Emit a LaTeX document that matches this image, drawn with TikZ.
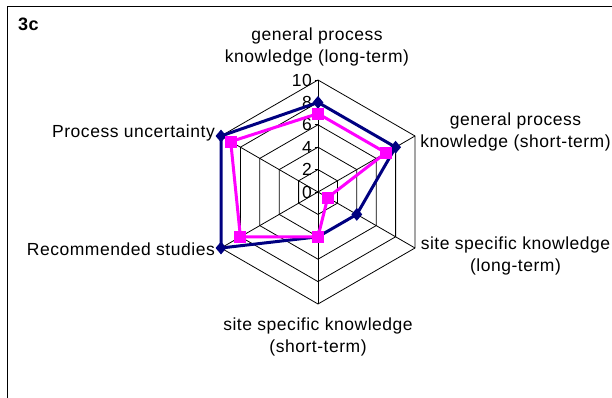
\documentclass[tikz,border=0pt]{standalone}
\usepackage{fontspec}
\setmainfont{Liberation Sans}[LetterSpace=3]
\usetikzlibrary{shapes.geometric}
\definecolor{navyc}{HTML}{000080}
\definecolor{pinkc}{HTML}{FF00FF}
\tikzset{
  gridline/.style={black, line width=0.8pt},
  blueline/.style={navyc, line width=3pt, line join=miter},
  pinkline/.style={pinkc, line width=3pt, line join=miter},
  bluemark/.style={diamond, fill=navyc, inner sep=0pt, minimum width=11pt, minimum height=13pt},
  pinkmark/.style={rectangle, fill=pinkc, inner sep=0pt, minimum size=12pt},
  axlabel/.style={align=center, inner sep=0pt},
  ticklabel/.style={anchor=east, inner sep=0pt},
}
\begin{document}
\begin{tikzpicture}[x=1pt, y=-1pt, font=\fontsize{17.5}{22}\selectfont]
\useasboundingbox (0,0) rectangle (612,398);
\draw[gridline] (7.5,398) -- (7.5,6.5) -- (612,6.5);
\node[anchor=west, inner sep=0pt, font=\fontsize{18}{22}\selectfont\bfseries] (title) at (18,24) {3c};
\begin{scope}[shift={(318,192)}, y=1pt]
  \coordinate (c) at (0,0);
  \foreach \r in {22.4,44.8,67.2,89.6,112}
    \draw[gridline] (90:\r) -- (30:\r) -- (-30:\r) -- (-90:\r) -- (-150:\r) -- (150:\r) -- cycle;
  \foreach \a [count=\i] in {90,30,-30,-90,-150,150} {
    \coordinate (v\i) at (\a:112);
    \draw[gridline] (c) -- (v\i);
  }
  \foreach \r/\v in {0/0,22.4/2,44.8/4,67.2/6,89.6/8,112/10} {
    \draw[gridline] (-3.5,\r) -- (0,\r);
    \node[ticklabel] (t\v) at (-6,\r) {\v};
  }
  % series 1 (navy)
  \foreach \a/\val [count=\i] in {90/8,30/8,-30/4,-90/4,-150/10,150/10}
    \coordinate (b\i) at (\a:\val*11.2);
  \draw[blueline] (b1) -- (b2) -- (b3) -- (b4) -- (b5) -- (b6) -- cycle;
  \foreach \i in {1,...,6} \node[bluemark] (bm\i) at (b\i) {};
  % series 2 (magenta)
  \foreach \a/\val [count=\i] in {90/7,30/7,-30/1,-90/4,-150/8,150/9}
    \coordinate (p\i) at (\a:\val*11.2);
  \draw[pinkline] (p1) -- (p2) -- (p3) -- (p4) -- (p5) -- (p6) -- cycle;
  \foreach \i in {1,...,6} \node[pinkmark] (pm\i) at (p\i) {};
\end{scope}
\node[axlabel] (l1) at (317,47) {general process\\knowledge (long-term)};
\node[axlabel] (l2) at (515.5,132) {general process\\knowledge (short-term)};
\node[axlabel] (l3) at (515.5,256) {site specific knowledge\\(long-term)};
\node[axlabel] (l4) at (318,337) {site specific knowledge\\(short-term)};
\node[anchor=east, inner sep=0pt] (l5) at (215,249) {Recommended studies};
\node[anchor=east, inner sep=0pt] (l6) at (215,133) {Process uncertainty};
\end{tikzpicture}
\end{document}
